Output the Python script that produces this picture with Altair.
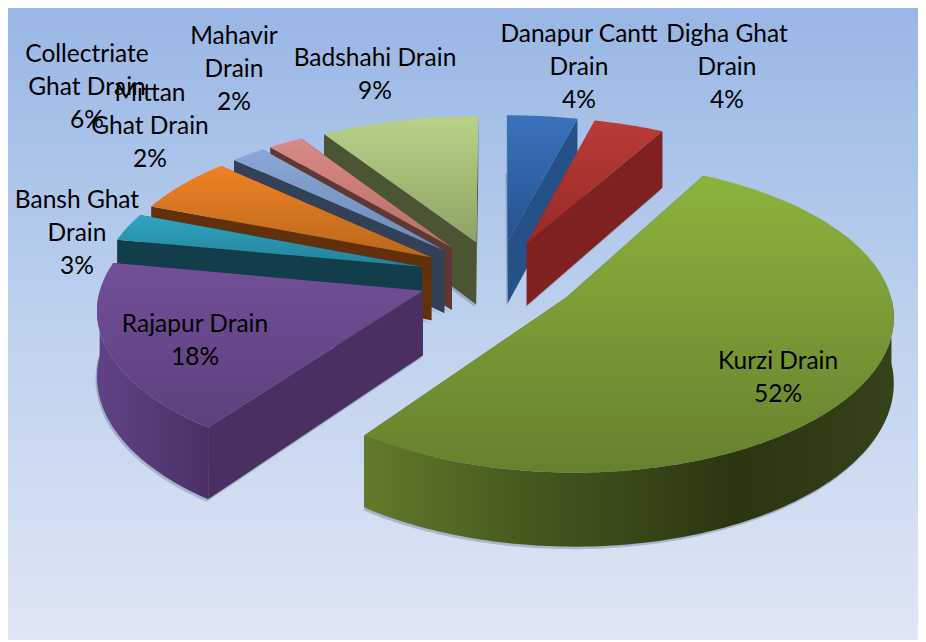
import math
import altair as alt

names = ["Danapur Cantt Drain", "Digha Ghat Drain", "Kurzi Drain", "Rajapur Drain", "Bansh Ghat Drain",
         "Collectriate Ghat Drain", "Mittan Ghat Drain", "Mahavir Drain", "Badshahi Drain"]
values = [4, 4, 52, 18, 3, 6, 2, 2, 9]
label_lines = [["Danapur Cantt", "Drain", "4%"], ["Digha Ghat", "Drain", "4%"], ["Kurzi Drain", "52%"],
               ["Rajapur Drain", "18%"], ["Bansh Ghat", "Drain", "3%"], ["Collectriate", "Ghat Drain", "6%"],
               ["Mittan", "Ghat Drain", "2%"], ["Mahavir", "Drain", "2%"], ["Badshahi Drain", "9%"]]
label_x = [579, 727, 778, 195, 77, 87, 150, 234, 375]
label_y = [34.5, 34.5, 361.5, 324.5, 200.5, 54.5, 93.5, 36.5, 58.5]
top_colors = [("#3a72ba", "#265290"), ("#b93b36", "#982a26"), ("#8cb33e", "#66812e"), ("#724f98", "#5c407c"),
              ("#2fa5c0", "#25819a"), ("#f18124", "#b8691c"), ("#8aa7d6", "#6e8ab4"), ("#db8a86", "#b56e68"),
              ("#b8d28a", "#8ea364")]
wall_colors = ["#255088", "#7f2121", "#4a5e20", "#4a2f62", "#123d4a", "#63300c", "#324058", "#5e3835", "#4b5433"]
paint_order = [0, 1, 8, 7, 6, 5, 4, 3, 2]

CX, CY, A, B, K, KX, H, E = 498, 277, 320, 149, 0.12, 0.105, 64, 0.25


def project(X, Y, z=0.0):
    s = 1 / (1 + K * Y)
    sx = 1 / (1 + KX * Y)
    return [CX + A * X * sx, CY - B * Y * s + H * z * s]


def feature(coords, kind="Polygon"):
    geom = coords if kind == "LineString" else [coords + [coords[0]]]
    return {"type": "Feature", "properties": {}, "geometry": {"type": kind, "coordinates": geom}}


def vgrad(c0, c1):
    return alt.Gradient(gradient="linear", x1=0, x2=0, y1=0, y2=1,
                        stops=[alt.GradientStop(offset=0, color=c0), alt.GradientStop(offset=1, color=c1)])


PROJ = dict(type="identity", scale=1, translate=[-8, -8])


def shape(coords, fill, **kw):
    return alt.Chart(alt.Data(values=[feature(coords)])).mark_geoshape(
        fill=fill, stroke="transparent", strokeWidth=0, **kw).project(**PROJ)


layers = []
bg = alt.Gradient(gradient="linear", x1=0, x2=0, y1=0, y2=1, stops=[
    alt.GradientStop(offset=0, color="#99b6e4"), alt.GradientStop(offset=0.47, color="#bcd0ee"),
    alt.GradientStop(offset=1, color="#dfe6f4")])
layers.append(shape([[8, 8], [918, 8], [918, 640], [8, 640]], bg))

total = sum(values)
cum, spans = 0, []
for v in values:
    spans.append((cum / total * 360, (cum + v) / total * 360))
    cum += v

for i in paint_order:
    a0, a1 = spans[i]
    mid = math.radians((a0 + a1) / 2)
    ox, oy = E * math.sin(mid), E * math.cos(mid)
    pt = lambda deg, r=1.0: (ox + r * math.sin(math.radians(deg)), oy + r * math.cos(math.radians(deg)))
    steps = max(2, int(a1 - a0) + 1)
    angs = [a0 + (a1 - a0) * t / steps for t in range(steps + 1)]
    tip_t, tip_b = project(ox, oy, 0), project(ox, oy, 1)
    arc_t = [project(*pt(d), 0) for d in angs]
    arc_b = [project(*pt(d), 1) for d in angs]
    # soft shadow under the slice
    layers.append(shape([[p[0] - 1.5, p[1] + 2.5] for p in [tip_b] + arc_b], "#5d6b86", opacity=0.35))
    layers.append(shape([tip_t, arc_t[0], arc_b[0], tip_b], wall_colors[i]))
    layers.append(shape([tip_t, arc_t[-1], arc_b[-1], tip_b], wall_colors[i]))
    vis = [d for d in angs if 90 <= d <= 270]
    if len(vis) > 1:
        rt = [project(*pt(d), 0) for d in vis]
        rb = [project(*pt(d), 1) for d in vis]
        if i == 2:
            fill = alt.Gradient(gradient="linear", x1=0, x2=1, y1=0, y2=0, stops=[
                alt.GradientStop(offset=0, color="#637a2b"), alt.GradientStop(offset=0.3, color="#465a1e"),
                alt.GradientStop(offset=0.7, color="#2b3510"), alt.GradientStop(offset=1, color="#36421a")])
        elif i == 3:
            fill = alt.Gradient(gradient="linear", x1=0, x2=1, y1=0, y2=0, stops=[
                alt.GradientStop(offset=0, color="#5f4384"), alt.GradientStop(offset=1, color="#4a3066")])
        else:
            fill = wall_colors[i]
        layers.append(shape(rt + rb[::-1], fill))
    layers.append(shape([tip_t] + arc_t, vgrad(*top_colors[i])))

rows = []
for lines, x, y in zip(label_lines, label_x, label_y):
    for n, line in enumerate(lines):
        rows.append({"t": line, "lon": x, "lat": y + n * 33})
labels = alt.Chart(alt.Data(values=rows)).mark_text(
    font="Lato", fontSize=24.5, color="#000000", align="center", baseline="middle"
).encode(longitude="lon:Q", latitude="lat:Q", text="t:N").project(**PROJ)
layers.append(labels)

chart = alt.layer(*layers).properties(width=910, height=632, padding=0).configure_view(stroke=None)
chart = chart.configure(background="white", autosize=alt.AutoSizeParams(type="none"))
chart.save("out.html", embed_options={"renderer": "svg", "actions": False})
